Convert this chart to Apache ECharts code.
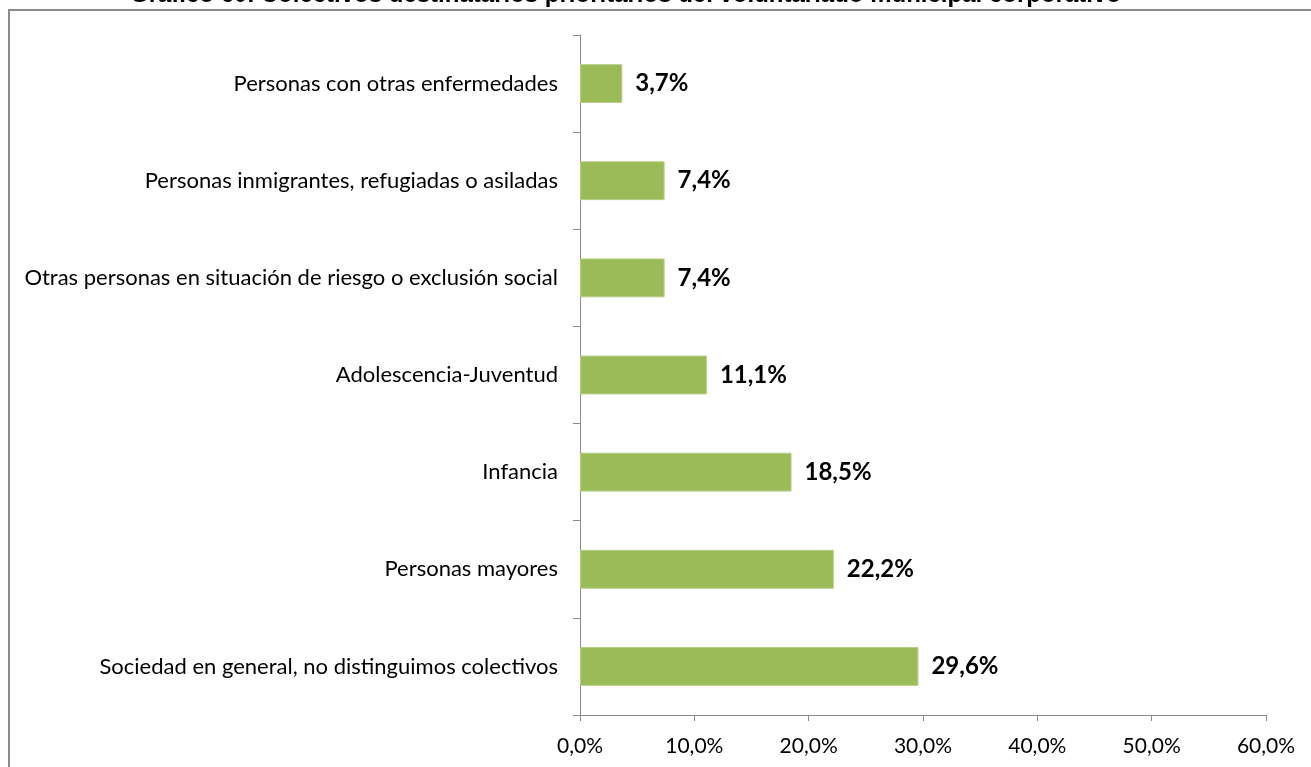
<!DOCTYPE html>
<html><head><meta charset="utf-8">
<script src="https://cdn.jsdelivr.net/npm/echarts@6/dist/echarts.min.js"></script>
<style>html,body{margin:0;padding:0;background:#fff}#c{width:1311px;height:767px}</style>
</head><body><div id="c"></div>
<script>
const titleText = 'Gráfico 60. Colectivos destinatarios prioritarios del voluntariado municipal corporativo';
const categories = [
  'Sociedad en general, no distinguimos colectivos',
  'Personas mayores',
  'Infancia',
  'Adolescencia-Juventud',
  'Otras personas en situación de riesgo o exclusión social',
  'Personas inmigrantes, refugiadas o asiladas',
  'Personas con otras enfermedades'
];
const values = [29.6, 22.2, 18.5, 11.1, 7.4, 7.4, 3.7];
const fmt = v => v.toFixed(1).replace('.', ',') + '%';

const chart = echarts.init(document.getElementById('c'));
chart.setOption({
  animation: false,
  title: {
    text: titleText, left: 125, top: -22,
    textStyle: { fontFamily: 'Liberation Sans', fontWeight: 'bold', fontSize: 24, color: '#000' }
  },
  graphic: [{
    type: 'rect', z: -1, silent: true,
    shape: { x: 9, y: 10, width: 1320, height: 800 },
    style: { fill: 'none', stroke: '#8a8a8a', lineWidth: 2 }
  }],
  grid: { left: 580, right: 45, top: 35, bottom: 52 },
  xAxis: {
    type: 'value', min: 0, max: 60, interval: 10,
    axisLine: { show: true, lineStyle: { color: '#8c8c8c', width: 1 } },
    axisTick: { show: true, length: 6, lineStyle: { color: '#8c8c8c' } },
    splitLine: { show: false },
    axisLabel: { formatter: v => fmt(v), margin: 21, fontFamily: 'Lato', fontSize: 21, color: '#000' }
  },
  yAxis: {
    type: 'category', data: categories,
    axisLine: { show: true, lineStyle: { color: '#8c8c8c', width: 1 } },
    axisTick: { show: true, length: 7, lineStyle: { color: '#8c8c8c' } },
    axisLabel: { margin: 22, fontFamily: 'Lato', fontSize: 22, color: '#000' }
  },
  series: [{
    type: 'bar', data: values, barWidth: '40%',
    itemStyle: { color: '#9BBB59', borderColor: '#b5cf85', borderWidth: 1 },
    label: {
      show: true, position: 'right', distance: 13,
      formatter: p => fmt(p.value),
      fontFamily: 'Lato', fontWeight: 'bold', fontSize: 24, color: '#000'
    }
  }]
});
</script></body></html>
